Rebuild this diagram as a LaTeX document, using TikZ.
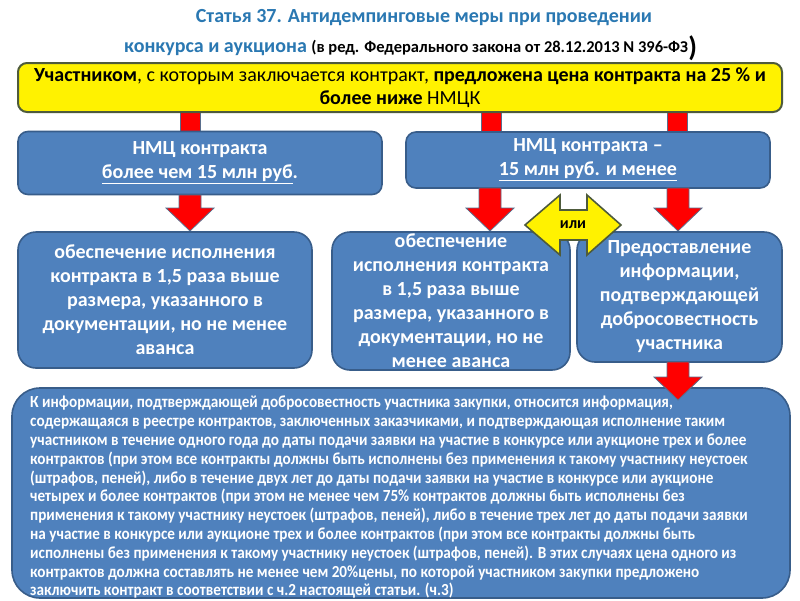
\documentclass[tikz,border=0pt]{standalone}
\usepackage{fontspec}
\setmainfont{Carlito}
\newfontfamily\narrowc[FakeStretch=0.9]{Carlito}
\definecolor{titleblue}{HTML}{2A78B2}
\definecolor{boxblue}{HTML}{4F81BD}
\definecolor{boxedge}{HTML}{385D8A}
\definecolor{yedge}{HTML}{4E5B3C}
\definecolor{arrowred}{HTML}{FF0000}
\definecolor{arrowedge}{HTML}{5A6E8C}
\newcommand\blockdown[4]{% cx, ytop, yhead, ytip
  \filldraw[redarrow] (#1-11,#2) -- (#1+11,#2) -- (#1+11,#3) -- (#1+24,#3) -- (#1,#4) -- (#1-24,#3) -- (#1-11,#3) -- cycle;}
\newcommand\stub[3]{% cx, ytop, ybot
  \filldraw[redarrow] (#1-10,#2) rectangle (#1+10,#3);}
\begin{document}
\begin{tikzpicture}[x=1pt,y=-1pt,
  bluetext/.style={text=white, align=center, font=\bfseries\fontsize{20}{24}\selectfont, inner sep=0pt},
  bluebox/.style={bluetext, draw=boxedge, line width=1.6pt, fill=boxblue},
  ybox/.style={draw=yedge, line width=2pt, fill=yellow, rounded corners=9pt, align=center,
     font=\fontsize{20}{23}\selectfont, inner sep=0pt},
  redarrow/.style={fill=arrowred, draw=arrowedge, line width=0.8pt},
  orarrow/.style={fill=yellow, draw=yedge, line width=1.6pt, line join=miter}]
\useasboundingbox (0,0) rectangle (800,600);
\fill[white] (0,0) rectangle (800,600);

% title
\node[text=titleblue, font=\bfseries\fontsize{20}{22}\selectfont] (t1) at (424,18)
  {Статья 37. Антидемпинговые меры при проведении};
\node[anchor=west, text=titleblue, font=\bfseries\fontsize{20}{22}\selectfont, inner sep=0pt] (t2) at (124,48)
  {конкурса и аукциона {\color{black}\fontsize{16.5}{18}\selectfont (в ред. Федерального закона от 28.12.2013 N 396-ФЗ}};
\node[anchor=west, font=\bfseries\fontsize{28}{28}\selectfont, inner sep=0pt] (t3) at (t2.east) {)};

% stubs from yellow box
\stub{190}{110}{133}
\stub{491}{110}{133}
\stub{677}{110}{133}

% yellow box
\node[ybox, minimum width=764pt, minimum height=49pt] (Y) at (400,87.5)
  {\textbf{Участником}, с которым заключается контракт, \textbf{предложена цена контракта на 25 \% и}\\
   \textbf{более ниже} НМЦК};

% second row
\node[bluebox, rounded corners=10pt, minimum width=364pt, minimum height=63pt] (A) at (200,163)
  {НМЦ контракта\\ \underline{более чем 15 млн руб}.};
\node[bluebox, rounded corners=10pt, minimum width=364pt, minimum height=56pt] (B) at (588,160)
  {НМЦ контракта --\\ \underline{15 млн руб. и менее}};

% arrows down
\blockdown{190}{195}{208}{231}
\blockdown{490}{188}{208}{231}
\blockdown{678}{188}{208}{231}

% third row
\node[bluebox, rounded corners=18pt, minimum width=294pt, minimum height=136pt] (C) at (165,300)
  {обеспечение исполнения\\ контракта в 1,5 раза выше\\ размера, указанного в\\ документации, но не менее\\ аванса};
\node[bluebox, rounded corners=18pt, minimum width=238pt, minimum height=138pt] (D) at (451,301) {};
\node[bluetext] (Dt) at (451,301)
  {обеспечение\\ исполнения контракта\\ в 1,5 раза выше\\ размера, указанного в\\ документации, но не\\ менее аванса};
\node[bluebox, rounded corners=18pt, minimum width=205pt, minimum height=130pt] (E) at (679.5,297)
  {Предоставление\\ информации,\\ подтверждающей\\ добросовестность\\ участника};

% bottom box
\node[draw=boxedge, line width=1.6pt, fill=boxblue, rounded corners=28pt,
  minimum width=778pt, minimum height=210pt, inner sep=0pt] (F) at (401,493) {};
\node[anchor=north west, align=left, text=white, inner sep=0pt,
  font=\narrowc\bfseries\fontsize{16.9}{18.8}\selectfont] (Ft) at (30,396)
  {К информации, подтверждающей добросовестность участника закупки, относится информация,\\
   содержащаяся в реестре контрактов, заключенных заказчиками, и подтверждающая исполнение таким\\
   участником в течение одного года до даты подачи заявки на участие в конкурсе или аукционе трех и более\\
   контрактов (при этом все контракты должны быть исполнены без применения к такому участнику неустоек\\
   (штрафов, пеней), либо в течение двух лет до даты подачи заявки на участие в конкурсе или аукционе\\
   четырех и более контрактов (при этом не менее чем 75\% контрактов должны быть исполнены без\\
   применения к такому участнику неустоек (штрафов, пеней), либо в течение трех лет до даты подачи заявки\\
   на участие в конкурсе или аукционе трех и более контрактов (при этом все контракты  должны быть\\
   исполнены без применения к такому участнику неустоек (штрафов, пеней). В этих случаях цена одного из\\
   контрактов должна составлять не менее чем 20\%цены, по которой участником закупки предложено\\
   заключить контракт  в соответствии с ч.2 настоящей статьи.  (ч.3)};

% arrow from E to F
\blockdown{678}{362}{377}{400}

% "или" double arrow
\filldraw[orarrow] (525,225) -- (560,195) -- (560,210) -- (587,210) -- (587,195) -- (621,225)
  -- (587,255) -- (587,240) -- (560,240) -- (560,255) -- cycle;
\node[font=\bfseries\fontsize{16}{18}\selectfont, inner sep=0pt] (or) at (573,225) {или};
\end{tikzpicture}
\end{document}
